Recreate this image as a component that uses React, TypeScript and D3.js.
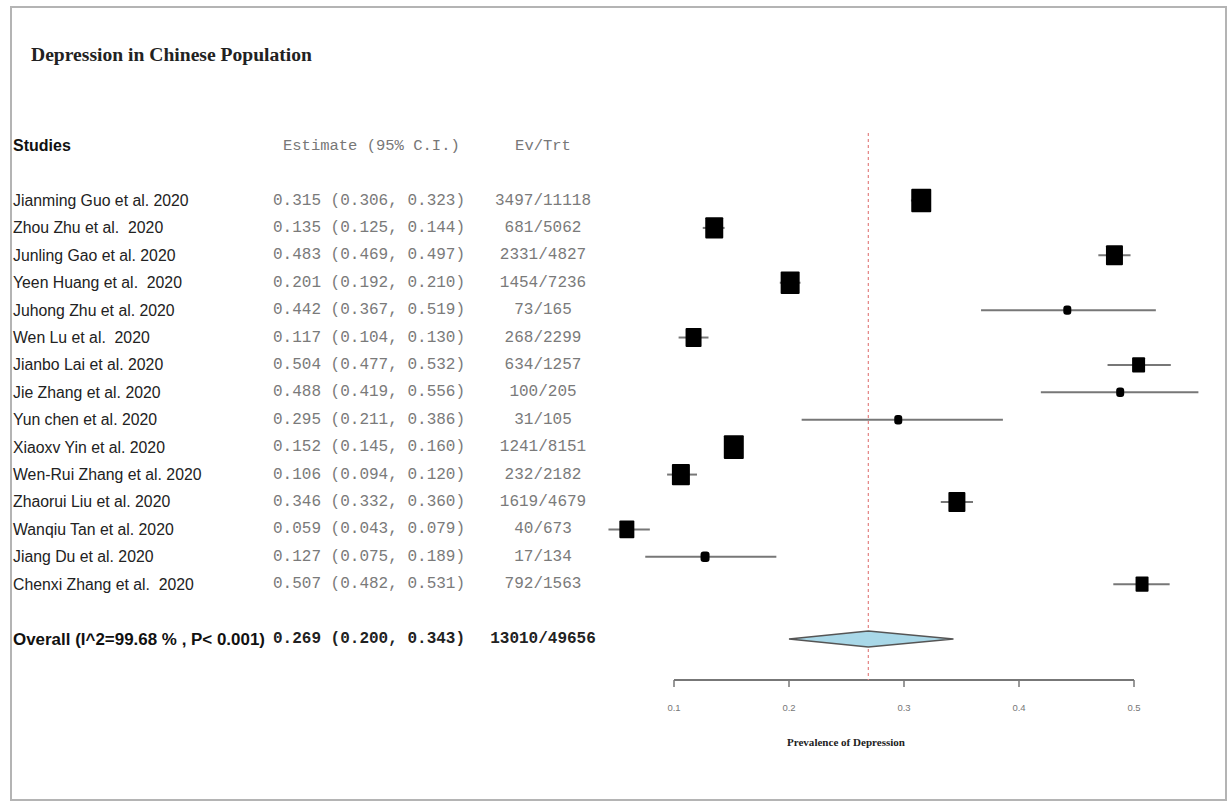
import React, { useEffect, useRef } from 'react';
import * as d3 from 'd3';

const studies = [
  'Jianming Guo et al. 2020', 'Zhou Zhu et al.  2020', 'Junling Gao et al. 2020',
  'Yeen Huang et al.  2020', 'Juhong Zhu et al. 2020', 'Wen Lu et al.  2020',
  'Jianbo Lai et al. 2020', 'Jie Zhang et al. 2020', 'Yun chen et al. 2020',
  'Xiaoxv Yin et al. 2020', 'Wen-Rui Zhang et al. 2020', 'Zhaorui Liu et al. 2020',
  'Wanqiu Tan et al. 2020', 'Jiang Du et al. 2020', 'Chenxi Zhang et al.  2020'
];
const estimates = [0.315, 0.135, 0.483, 0.201, 0.442, 0.117, 0.504, 0.488, 0.295, 0.152, 0.106, 0.346, 0.059, 0.127, 0.507];
const lowers = [0.306, 0.125, 0.469, 0.192, 0.367, 0.104, 0.477, 0.419, 0.211, 0.145, 0.094, 0.332, 0.043, 0.075, 0.482];
const uppers = [0.323, 0.144, 0.497, 0.210, 0.519, 0.130, 0.532, 0.556, 0.386, 0.160, 0.120, 0.360, 0.079, 0.189, 0.531];
const events = [3497, 681, 2331, 1454, 73, 268, 634, 100, 31, 1241, 232, 1619, 40, 17, 792];
const totals = [11118, 5062, 4827, 7236, 165, 2299, 1257, 205, 105, 8151, 2182, 4679, 673, 134, 1563];
// relative weights
const weights = [7.0, 6.8, 6.7, 6.9, 5.8, 6.6, 6.3, 5.8, 5.8, 7.0, 6.8, 6.7, 6.5, 5.9, 6.3];

const overallEst = 0.269;
const overallLo = 0.200;
const overallHi = 0.343;
const overallEvents = 13010;
const overallTotal = 49656;
const overallLabel = 'Overall (I^2=99.68 % , P< 0.001)';

const xTicks = [0.1, 0.2, 0.3, 0.4, 0.5];

const ForestPlot = () => {
  const svgRef = useRef<SVGSVGElement | null>(null);

  useEffect(() => {
    const svg = d3.select(svgRef.current);
    svg.selectAll('*').remove();

    const W = 1228, H = 803;
    const sans = '"Liberation Sans", Arial, sans-serif';
    const mono = '"Liberation Mono", "Courier New", monospace';
    const serif = '"Liberation Serif", "Times New Roman", serif';

    svg.append('rect').attr('width', W).attr('height', H).attr('fill', '#fff');
    svg.append('rect')
      .attr('x', 11).attr('y', 7).attr('width', 1215).attr('height', 793)
      .attr('fill', 'none').attr('stroke', '#b4b4b4').attr('stroke-width', 2);

    svg.append('text')
      .attr('x', 31).attr('y', 61)
      .attr('font-family', serif).attr('font-weight', 'bold').attr('font-size', 18)
      .attr('textLength', 281).attr('lengthAdjust', 'spacingAndGlyphs')
      .attr('fill', '#222')
      .text('Depression in Chinese Population');

    const x = d3.scaleLinear().domain([0.1, 0.5]).range([674, 1134]);
    const y = d3.scaleLinear().domain([0, 16]).range([200.5, 639]);
    const box = d3.scaleLinear().domain([5.8, 7.0]).range([8, 20]);
    const f3 = d3.format('.3f');

    const estCol = 273, evCol = 543;

    // headers
    svg.append('text')
      .attr('x', 13).attr('y', y(-2)).attr('dominant-baseline', 'central')
      .attr('font-family', sans).attr('font-weight', 'bold').attr('font-size', 16)
      .attr('fill', '#111').text('Studies');
    svg.append('text')
      .attr('x', 283).attr('y', y(-2)).attr('dominant-baseline', 'central')
      .attr('font-family', mono).attr('font-size', 15.5)
      .attr('fill', '#777').attr('xml:space', 'preserve').text('Estimate (95% C.I.)');
    svg.append('text')
      .attr('x', evCol).attr('y', y(-2)).attr('dominant-baseline', 'central')
      .attr('text-anchor', 'middle')
      .attr('font-family', mono).attr('font-size', 15.5)
      .attr('fill', '#777').text('Ev/Trt');

    const rows = svg.append('g');
    studies.forEach((name, i) => {
      const yy = y(i);
      rows.append('text')
        .attr('x', 13).attr('y', yy).attr('dominant-baseline', 'central')
        .attr('font-family', sans).attr('font-size', 15.8)
        .attr('fill', '#222').style('white-space', 'pre').text(name);
      rows.append('text')
        .attr('x', estCol).attr('y', yy).attr('dominant-baseline', 'central')
        .attr('font-family', mono).attr('font-size', 16)
        .attr('fill', '#7a7a7a').style('white-space', 'pre')
        .text(`${f3(estimates[i])} (${f3(lowers[i])}, ${f3(uppers[i])})`);
      rows.append('text')
        .attr('x', evCol).attr('y', yy).attr('dominant-baseline', 'central')
        .attr('text-anchor', 'middle')
        .attr('font-family', mono).attr('font-size', 16)
        .attr('fill', '#7a7a7a').text(`${events[i]}/${totals[i]}`);
    });

    // overall row
    const yo = y(16);
    svg.append('text')
      .attr('x', 13).attr('y', yo).attr('dominant-baseline', 'central')
      .attr('font-family', sans).attr('font-weight', 'bold').attr('font-size', 15.8)
      .attr('textLength', 252).attr('lengthAdjust', 'spacingAndGlyphs')
      .attr('fill', '#111').style('white-space', 'pre').text(overallLabel);
    svg.append('text')
      .attr('x', estCol).attr('y', yo).attr('dominant-baseline', 'central')
      .attr('font-family', mono).attr('font-weight', 'bold').attr('font-size', 16)
      .attr('fill', '#222').style('white-space', 'pre')
      .text(`${f3(overallEst)} (${f3(overallLo)}, ${f3(overallHi)})`);
    svg.append('text')
      .attr('x', evCol).attr('y', yo).attr('dominant-baseline', 'central')
      .attr('text-anchor', 'middle')
      .attr('font-family', mono).attr('font-weight', 'bold').attr('font-size', 16)
      .attr('fill', '#222').text(`${overallEvents}/${overallTotal}`);

    // axis
    const axisY = 680;
    const axis = svg.append('g');
    axis.append('line')
      .attr('x1', x(0.1)).attr('x2', x(0.5)).attr('y1', axisY).attr('y2', axisY)
      .attr('stroke', '#777').attr('stroke-width', 1.8);
    xTicks.forEach(t => {
      axis.append('line')
        .attr('x1', x(t)).attr('x2', x(t)).attr('y1', axisY).attr('y2', axisY + 7)
        .attr('stroke', '#777').attr('stroke-width', 1.5);
      axis.append('text')
        .attr('x', x(t)).attr('y', axisY + 27).attr('dominant-baseline', 'central')
        .attr('text-anchor', 'middle')
        .attr('font-family', sans).attr('font-size', 9.5).attr('fill', '#777')
        .text(d3.format('.1f')(t));
    });
    svg.append('text')
      .attr('x', 846).attr('y', 742).attr('dominant-baseline', 'central')
      .attr('text-anchor', 'middle')
      .attr('font-family', serif).attr('font-weight', 'bold').attr('font-size', 11)
      .attr('textLength', 118).attr('lengthAdjust', 'spacingAndGlyphs')
      .attr('fill', '#222').text('Prevalence of Depression');

    // reference line at pooled estimate
    svg.append('line')
      .attr('x1', x(overallEst)).attr('x2', x(overallEst))
      .attr('y1', 133).attr('y2', axisY)
      .attr('stroke', '#e58a8a').attr('stroke-width', 1.3)
      .attr('stroke-dasharray', '3,3');

    // study CIs and boxes
    const marks = svg.append('g');
    studies.forEach((_, i) => {
      const yy = y(i);
      marks.append('line')
        .attr('x1', x(lowers[i])).attr('x2', x(uppers[i]))
        .attr('y1', yy).attr('y2', yy)
        .attr('stroke', '#777').attr('stroke-width', 2);
      const w = box(weights[i]);
      const h = w * 1.18;
      marks.append('rect')
        .attr('x', x(estimates[i]) - w / 2).attr('y', yy - h / 2)
        .attr('width', w).attr('height', h)
        .attr('rx', w < 10 ? 3 : 1)
        .attr('fill', '#000');
    });

    // pooled diamond
    const dh = 8;
    svg.append('path')
      .attr('d', d3.line()([
        [x(overallLo), yo], [x(overallEst), yo - dh],
        [x(overallHi), yo], [x(overallEst), yo + dh]
      ]) + 'Z')
      .attr('fill', '#a9d8e8').attr('stroke', '#555').attr('stroke-width', 1.5);
  }, []);

  return <svg ref={svgRef} width={1228} height={803} style={{ position: 'absolute', left: 0, top: 0 }} />;
};

export default function App() {
  return <ForestPlot />;
}
